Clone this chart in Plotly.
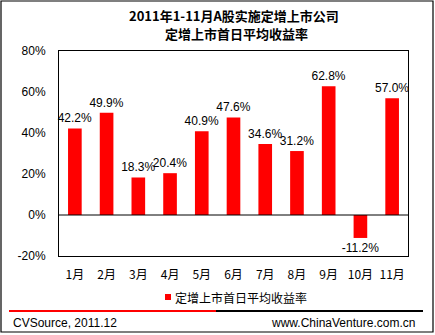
import plotly.graph_objects as go

categories = ["1月", "2月", "3月", "4月", "5月", "6月", "7月", "8月", "9月", "10月", "11月"]
values = [42.2, 49.9, 18.3, 20.4, 40.9, 47.6, 34.6, 31.2, 62.8, -11.2, 57.0]
series_name = "定增上市首日平均收益率"
title_lines = ["2011年1-11月A股实施定增上市公司", "定增上市首日平均收益率"]
y_tickvals = [-20, 0, 20, 40, 60, 80]
y_ticktext = ["-20%", "0%", "20%", "40%", "60%", "80%"]
footer_left = "CVSource, 2011.12"
footer_right = "www.ChinaVenture.com.cn"

W, H = 435, 335
L, R, T, B = 59, W - 408, 51, H - 256
PW, PH = W - L - R, H - T - B

def px(x):
    return (x - L) / PW

def py(y):
    return (H - B - y) / PH

FONT = "Liberation Sans, Arial, Noto Sans CJK SC, sans-serif"
CJK = "Noto Sans CJK SC, sans-serif"

fig = go.Figure()
fig.add_trace(go.Bar(
    x=categories, y=values, name=series_name,
    marker=dict(color="#FF0000", line=dict(width=0)),
    text=[f"{v:.1f}%" for v in values],
    textposition="outside",
    textfont=dict(family=FONT, size=12, color="black"),
    constraintext="none",
    cliponaxis=False,
    showlegend=False,
    width=0.43,
))

shapes = [
    # outer border
    dict(type="rect", xref="paper", yref="paper", x0=px(1), x1=px(433), y0=py(332), y1=py(1),
         line=dict(color="black", width=1.2)),
    # footer lines
    dict(type="line", xref="paper", yref="paper", x0=px(9), x1=px(216), y0=py(311), y1=py(311),
         line=dict(color="#FF0000", width=2)),
    dict(type="line", xref="paper", yref="paper", x0=px(216), x1=px(423), y0=py(311), y1=py(311),
         line=dict(color="black", width=2)),
    # zero line
    dict(type="line", xref="paper", yref="y", x0=0, x1=1, y0=0, y1=0,
         line=dict(color="black", width=1)),
    # legend swatch
    dict(type="rect", xref="paper", yref="paper", x0=px(165), x1=px(171), y0=py(300), y1=py(294),
         fillcolor="#FF0000", line=dict(width=0)),
]

annotations = [
    dict(text="<b>" + title_lines[0] + "</b>", xref="paper", yref="paper", x=px(234), y=py(15),
         showarrow=False, font=dict(family=CJK, size=13, color="black"), xanchor="center", yanchor="middle"),
    dict(text="<b>" + title_lines[1] + "</b>", xref="paper", yref="paper", x=px(236), y=py(34),
         showarrow=False, font=dict(family=CJK, size=13, color="black"), xanchor="center", yanchor="middle"),
    dict(text=series_name, xref="paper", yref="paper", x=px(173), y=py(297),
         showarrow=False, font=dict(family=CJK, size=12, color="black"), xanchor="left", yanchor="middle"),
    dict(text=footer_left, xref="paper", yref="paper", x=px(11), y=py(323),
         showarrow=False, font=dict(family=FONT, size=12, color="black"), xanchor="left", yanchor="middle"),
    dict(text=footer_right, xref="paper", yref="paper", x=px(417), y=py(323),
         showarrow=False, font=dict(family=FONT, size=12, color="black"), xanchor="right", yanchor="middle"),
]

fig.update_layout(
    width=W, height=H,
    margin=dict(l=L, r=R, t=T, b=B),
    paper_bgcolor="white", plot_bgcolor="white",
    showlegend=False,
    shapes=shapes,
    annotations=annotations,
    xaxis=dict(showline=True, linecolor="black", linewidth=1, mirror=True, ticks="",
               tickfont=dict(family=CJK, size=12, color="black"), showgrid=False, zeroline=False,
               ticklabelstandoff=8),
    yaxis=dict(range=[-20, 80], tickvals=y_tickvals, ticktext=y_ticktext, showline=True,
               linecolor="black", linewidth=1, mirror=True, ticks="", showgrid=False, zeroline=False,
               tickfont=dict(family=FONT, size=12, color="black"), ticklabelstandoff=10),
)

fig.write_html("out.html")
